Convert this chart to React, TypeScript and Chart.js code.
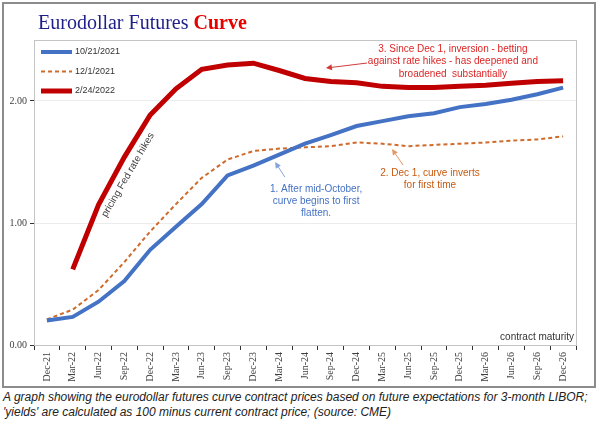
import { useEffect, useRef } from 'react';
import { Chart, registerables } from 'chart.js';

Chart.register(...registerables);

const categories = [
  'Dec-21', 'Mar-22', 'Jun-22', 'Sep-22', 'Dec-22', 'Mar-23', 'Jun-23', 'Sep-23', 'Dec-23',
  'Mar-24', 'Jun-24', 'Sep-24', 'Dec-24', 'Mar-25', 'Jun-25', 'Sep-25', 'Dec-25',
  'Mar-26', 'Jun-26', 'Sep-26', 'Dec-26',
];

const seriesOct21 = [
  0.2, 0.23, 0.355, 0.525, 0.78, 0.97, 1.155, 1.39, 1.47, 1.56, 1.65, 1.72, 1.795,
  1.835, 1.875, 1.9, 1.95, 1.975, 2.01, 2.055, 2.11,
];

const seriesDec1 = [
  0.21, 0.29, 0.45, 0.68, 0.93, 1.155, 1.37, 1.52, 1.59, 1.61, 1.62, 1.63, 1.66,
  1.65, 1.63, 1.64, 1.65, 1.66, 1.675, 1.685, 1.71,
];

const seriesFeb24 = [
  null, 0.62, 1.15, 1.54, 1.885, 2.1, 2.26, 2.295, 2.31, 2.25, 2.185, 2.16, 2.15,
  2.12, 2.11, 2.11, 2.12, 2.13, 2.145, 2.16, 2.165,
];

const seriesLabels = ['10/21/2021', '12/1/2021', '2/24/2022'];
const yTickValues = [0, 1, 2];

const note1 = ['1. After mid-October,', 'curve begins to first', 'flatten.'];
const note2 = ['2. Dec 1, curve inverts', 'for first time'];
const note3 = ['3. Since Dec 1, inversion - betting', 'against rate hikes - has deepened and', 'broadened  substantially'];
const rotatedNote = 'pricing Fed rate hikes';
const axisNote = 'contract maturity';
const titleMain = 'Eurodollar Futures ';
const titleAccent = 'Curve';
const caption1 = 'A graph showing the eurodollar futures curve contract prices based on future expectations for 3-month LIBOR;';
const caption2 = "'yields' are calculated as 100  minus current contract price; (source: CME)";

const BLUE = '#4472c4';
const ORANGE = '#cf6a2a';
const RED = '#c00000';

function arrow(ctx: CanvasRenderingContext2D, x1: number, y1: number, x2: number, y2: number, color: string) {
  const ang = Math.atan2(y2 - y1, x2 - x1);
  const len = 6;
  const hw = 3;
  ctx.save();
  ctx.strokeStyle = color;
  ctx.fillStyle = color;
  ctx.lineWidth = 1;
  ctx.beginPath();
  ctx.moveTo(x1, y1);
  ctx.lineTo(x2 - Math.cos(ang) * len * 0.8, y2 - Math.sin(ang) * len * 0.8);
  ctx.stroke();
  ctx.beginPath();
  ctx.moveTo(x2, y2);
  ctx.lineTo(x2 - Math.cos(ang) * len - Math.sin(ang) * hw, y2 - Math.sin(ang) * len + Math.cos(ang) * hw);
  ctx.lineTo(x2 - Math.cos(ang) * len + Math.sin(ang) * hw, y2 - Math.sin(ang) * len - Math.cos(ang) * hw);
  ctx.closePath();
  ctx.fill();
  ctx.restore();
}

function textBlock(ctx: CanvasRenderingContext2D, lines: string[], cx: number, y: number, lh: number, color: string) {
  ctx.save();
  ctx.fillStyle = color;
  ctx.font = '10px "Liberation Sans", Arial, sans-serif';
  ctx.textAlign = 'center';
  ctx.textBaseline = 'middle';
  lines.forEach((l, i) => ctx.fillText(l, cx, y + i * lh));
  ctx.restore();
}

const overlayPlugin = {
  id: 'overlay',
  beforeDatasetsDraw(chart: any) {
    const { ctx, chartArea } = chart;
    ctx.save();
    ctx.strokeStyle = '#c4c4c4';
    ctx.lineWidth = 1;
    ctx.strokeRect(chartArea.left + 0.5, chartArea.top + 0.5, chartArea.right - chartArea.left, chartArea.bottom - chartArea.top);
    ctx.restore();
  },
  afterDraw(chart: any) {
    const { ctx, chartArea, scales } = chart;
    const X = (i: number) => scales.x.getPixelForValue(i);
    const Y = (v: number) => scales.y.getPixelForValue(v);

    // legend
    const styles = [
      { color: BLUE, width: 4, dash: [] as number[] },
      { color: ORANGE, width: 2, dash: [4, 3] },
      { color: RED, width: 5, dash: [] as number[] },
    ];
    ctx.save();
    ctx.font = '9px "Liberation Sans", Arial, sans-serif';
    ctx.textBaseline = 'middle';
    ctx.fillStyle = '#333';
    seriesLabels.forEach((lab, i) => {
      const y = chartArea.top + 12 + i * 19.5;
      const x0 = chartArea.left + 7;
      ctx.save();
      ctx.strokeStyle = styles[i].color;
      ctx.lineWidth = styles[i].width;
      ctx.setLineDash(styles[i].dash);
      ctx.beginPath();
      ctx.moveTo(x0, y);
      ctx.lineTo(x0 + 31, y);
      ctx.stroke();
      ctx.restore();
      ctx.fillText(lab, x0 + 34, y);
    });
    ctx.restore();

    // annotations
    textBlock(ctx, note1, X(10.43), Y(1.279), 12.3, BLUE);
    arrow(ctx, X(9.22), Y(1.377), X(8.84), Y(1.5), '#86a2d8');
    textBlock(ctx, note2, X(14.84), Y(1.41), 12, '#c55a11');
    arrow(ctx, X(13.8), Y(1.475), X(13.37), Y(1.607), '#e39a6a');
    textBlock(ctx, note3, X(15.73), Y(2.426), 12.5, '#dd2525');
    arrow(ctx, X(12.4), Y(2.311), X(10.81), Y(2.27), '#d23a3a');

    // rotated note
    ctx.save();
    ctx.translate(X(3.14), Y(1.393));
    ctx.rotate(-60 * Math.PI / 180);
    ctx.font = '10px "Liberation Sans", Arial, sans-serif';
    ctx.fillStyle = '#404040';
    ctx.textAlign = 'center';
    ctx.textBaseline = 'middle';
    ctx.fillText(rotatedNote, 0, 0);
    ctx.restore();

    // axis note
    ctx.save();
    ctx.font = '10px "Liberation Sans", Arial, sans-serif';
    ctx.fillStyle = '#333';
    ctx.textAlign = 'right';
    ctx.textBaseline = 'middle';
    ctx.fillText(axisNote, chartArea.right - 2, chartArea.bottom - 8);
    ctx.restore();
  },
};

export default function App() {
  const ref = useRef<HTMLCanvasElement | null>(null);

  useEffect(() => {
    if (!ref.current) return;
    const chart = new Chart(ref.current, {
      type: 'line',
      data: {
        labels: categories,
        datasets: [
          { label: seriesLabels[0], data: seriesOct21, borderColor: BLUE, borderWidth: 4, pointRadius: 0, tension: 0 },
          { label: seriesLabels[1], data: seriesDec1, borderColor: ORANGE, borderWidth: 2, borderDash: [4, 3], pointRadius: 0, tension: 0 },
          { label: seriesLabels[2], data: seriesFeb24, borderColor: RED, borderWidth: 5, pointRadius: 0, tension: 0 },
        ],
      },
      options: {
        animation: false,
        responsive: false,
        maintainAspectRatio: false,
        layout: { padding: { left: 0, top: 40, right: 24, bottom: 0 } },
        plugins: { legend: { display: false }, title: { display: false }, tooltip: { enabled: false } },
        scales: {
          x: {
            type: 'category',
            offset: true,
            grid: { offset: true, drawOnChartArea: false, drawTicks: true, tickLength: 5, tickColor: '#333' },
            border: { display: true, color: '#333', width: 1 },
            ticks: {
              autoSkip: false,
              minRotation: 90,
              maxRotation: 90,
              padding: 2,
              color: '#404040',
              font: { family: '"Liberation Serif", "Times New Roman", serif', size: 10 },
            },
            afterFit: (s: any) => { s.height = 45; },
          },
          y: {
            min: 0,
            max: 2.5,
            grid: { color: '#ececec', lineWidth: 1, tickLength: 4, tickColor: '#333' },
            border: { display: true, color: '#333', width: 1 },
            ticks: {
              stepSize: 1,
              includeBounds: false,
              padding: 3,
              color: '#404040',
              font: { family: '"Liberation Serif", "Times New Roman", serif', size: 10 },
              callback: (v: any) => Number(v).toFixed(2),
            },
            afterBuildTicks: (s: any) => { s.ticks = yTickValues.map((v) => ({ value: v })); },
            afterFit: (s: any) => { s.width = 34; },
          },
        },
      },
      plugins: [overlayPlugin],
    } as any);
    return () => chart.destroy();
  }, []);

  return (
    <div style={{ position: 'absolute', left: 0, top: 0, width: 600, height: 426, background: '#fff', overflow: 'hidden' }}>
      <div style={{ position: 'absolute', left: 2, top: 2, width: 594, height: 386, boxSizing: 'border-box', border: '2px solid #8c8c8c' }} />
      <canvas ref={ref} width={600} height={390} style={{ position: 'absolute', left: 0, top: 0, width: 600, height: 390 }} />
      <div style={{ position: 'absolute', left: 38, top: 9, fontFamily: '"Liberation Serif", "Times New Roman", serif', fontSize: 20, lineHeight: '26px', whiteSpace: 'nowrap' }}>
        <span style={{ color: '#1f1f8a' }}>{titleMain}</span>
        <span style={{ color: '#e60000', fontWeight: 'bold' }}>{titleAccent}</span>
      </div>
      <div style={{ position: 'absolute', left: 3, top: 390, fontFamily: '"Liberation Sans", Arial, sans-serif', fontStyle: 'italic', fontSize: 12, lineHeight: '15px', color: '#222', whiteSpace: 'nowrap' }}>
        <div>{caption1}</div>
        <div>{caption2}</div>
      </div>
    </div>
  );
}
